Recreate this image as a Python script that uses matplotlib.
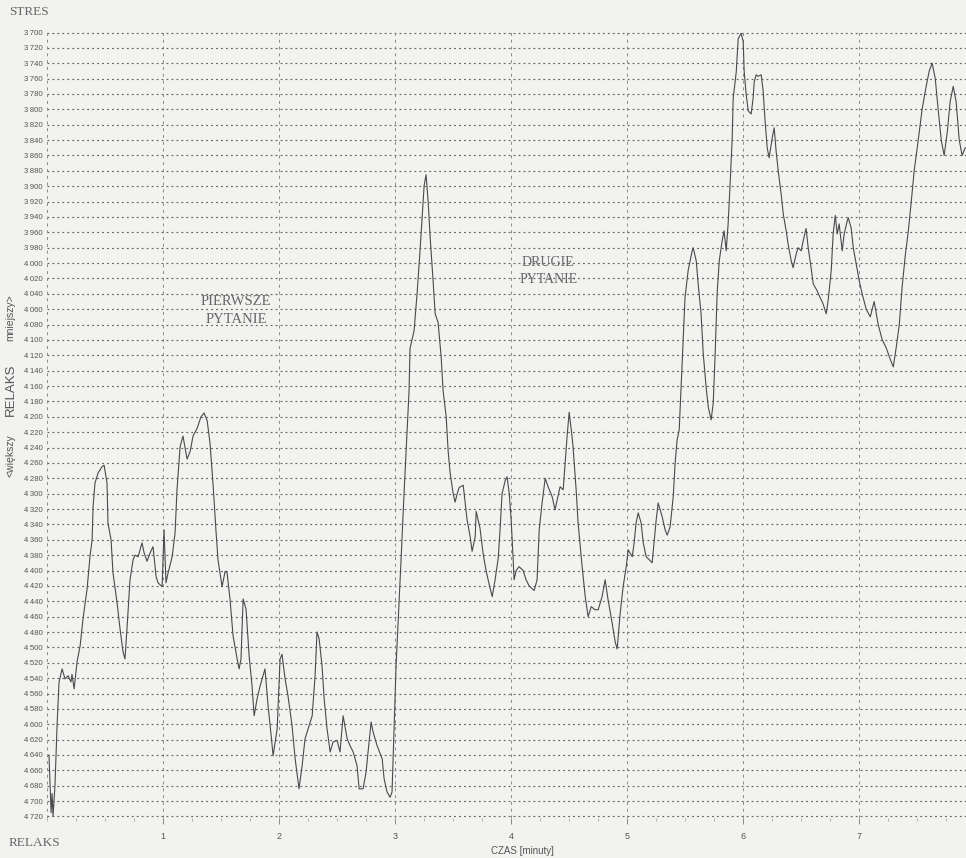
import numpy as np
import matplotlib
matplotlib.use("Agg")
import matplotlib.pyplot as plt

plt.rcParams["font.family"] = ["Liberation Sans", "DejaVu Sans"]

# skin-resistance record: time [s] and level (inverted scale: low = stress)
t_sec = [
    1.0, 2.1, 2.6, 3.1, 4.1, 5.2, 6.2, 7.8, 9.3, 10.9, 12.4, 12.9, 14.0, 15.5,
    17.1, 18.6, 20.7, 22.2, 23.3, 23.8, 24.8, 26.4, 28.4, 29.5, 31.0, 31.5,
    33.1, 34.1, 36.2, 37.8, 39.3, 40.3, 41.4, 42.9, 44.5, 45.5, 47.1, 49.1,
    50.2, 51.7, 53.3, 54.8, 56.4, 57.4, 59.5, 60.5, 61.5, 62.6, 64.7, 66.2,
    67.2, 68.8, 70.3, 72.4, 74.0, 75.5, 77.6, 79.6, 81.2, 82.8, 84.3, 85.9,
    87.4, 88.4, 90.5, 92.1, 93.1, 94.6, 96.2, 98.3, 99.3, 100.3, 101.4, 102.9,
    104.5, 106.0, 107.1, 108.6, 110.2, 112.7, 114.3, 115.9, 116.9, 119.0,
    120.5, 121.5, 123.1, 124.6, 126.7, 128.3, 130.3, 131.9, 133.4, 135.0,
    137.1, 138.6, 139.6, 140.7, 142.2, 143.3, 144.8, 146.4, 147.9, 150.0,
    151.5, 153.1, 155.2, 156.7, 158.3, 160.3, 161.4, 163.4, 165.0, 166.0,
    167.6, 168.6, 170.7, 173.3, 174.3, 175.8, 177.4, 178.4, 179.5, 180.5,
    182.1, 183.1, 184.6, 186.2, 187.2, 187.7, 189.8, 191.4, 192.9, 194.0,
    195.0, 196.0, 197.1, 198.1, 199.6, 200.7, 202.2, 203.8, 204.8, 206.4,
    207.4, 208.4, 210.0, 211.0, 212.1, 213.1, 215.2, 216.2, 217.2, 218.8,
    219.8, 221.4, 221.9, 223.9, 225.5, 227.0, 229.1, 230.2, 231.7, 233.3,
    234.3, 235.3, 236.9, 237.9, 239.0, 240.0, 241.0, 241.5, 242.6, 244.1,
    246.2, 247.7, 249.3, 251.9, 253.4, 254.5, 256.0, 257.6, 259.1, 261.2,
    262.7, 263.8, 265.3, 266.9, 267.9, 268.9, 270.0, 271.5, 272.0, 273.6,
    274.6, 276.7, 278.3, 279.8, 281.4, 283.4, 285.0, 287.0, 288.6, 290.1,
    292.2, 293.8, 294.8, 296.4, 297.9, 299.5, 300.5, 302.6, 303.6, 304.6,
    305.7, 307.2, 308.3, 309.8, 311.4, 312.9, 313.9, 315.0, 316.0, 318.1,
    319.6, 320.7, 322.2, 323.8, 324.8, 325.8, 326.9, 327.9, 328.9, 329.9,
    331.5, 333.6, 334.1, 335.7, 336.7, 338.2, 339.3, 340.8, 341.9, 343.4,
    344.5, 345.5, 346.5, 347.6, 349.1, 350.1, 351.2, 352.2, 353.3, 354.3,
    354.8, 356.4, 357.4, 358.9, 360.0, 360.5, 361.5, 362.6, 364.1, 365.1,
    365.7, 366.7, 367.7, 369.3, 370.3, 371.3, 372.4, 373.4, 375.0, 376.0,
    377.0, 378.1, 379.6, 380.7, 382.2, 383.2, 384.8, 385.8, 387.4, 388.4,
    390.0, 391.0, 392.5, 393.6, 395.1, 396.2, 398.2, 399.8, 401.3, 402.9,
    403.9, 405.5, 406.5, 407.6, 408.6, 409.6, 411.2, 412.2, 413.8, 414.3,
    415.8, 416.9, 418.4, 420.0, 421.5, 423.6, 425.7, 427.7, 429.8, 431.9,
    433.9, 436.0, 437.6, 439.1, 440.7, 442.2, 443.8, 445.3, 446.9, 448.4,
    450.5, 452.5, 454.6, 456.2, 457.7, 459.3, 460.8, 462.4, 463.9, 465.5,
    467.0, 468.6, 470.1, 471.7, 473.2, 474.8,
]
level = [
    4640, 4715, 4690, 4720, 4680, 4600, 4545, 4528, 4541, 4537, 4545, 4535,
    4554, 4519, 4498, 4463, 4424, 4382, 4360, 4317, 4286, 4273, 4265, 4263,
    4286, 4338, 4360, 4403, 4442, 4477, 4506, 4515, 4473, 4412, 4386, 4380,
    4382, 4364, 4377, 4388, 4377, 4369, 4408, 4416, 4421, 4347, 4416, 4403,
    4382, 4351, 4295, 4239, 4225, 4255, 4245, 4225, 4215, 4200, 4195, 4205,
    4235, 4290, 4350, 4386, 4421, 4401, 4403, 4437, 4485, 4515, 4528, 4515,
    4437, 4450, 4511, 4550, 4589, 4567, 4550, 4528, 4576, 4615, 4641, 4606,
    4515, 4509, 4541, 4563, 4602, 4645, 4684, 4654, 4619, 4606, 4589, 4537,
    4480, 4489, 4524, 4567, 4606, 4636, 4623, 4621, 4636, 4589, 4619, 4628,
    4636, 4654, 4684, 4684, 4662, 4636, 4597, 4610, 4628, 4645, 4671, 4688,
    4695, 4688, 4600, 4523, 4439, 4384, 4300, 4216, 4166, 4111, 4088, 4038,
    3983, 3938, 3899, 3885, 3921, 3966, 4022, 4066, 4077, 4122, 4166, 4200,
    4244, 4272, 4300, 4311, 4300, 4292, 4289, 4311, 4334, 4356, 4375, 4356,
    4323, 4345, 4378, 4400, 4423, 4434, 4412, 4384, 4345, 4300, 4283, 4278,
    4300, 4334, 4384, 4412, 4400, 4395, 4400, 4412, 4420, 4426, 4412, 4347,
    4312, 4280, 4291, 4304, 4321, 4308, 4291, 4295, 4260, 4226, 4194, 4226,
    4239, 4295, 4338, 4395, 4434, 4460, 4447, 4451, 4451, 4434, 4412, 4438,
    4468, 4493, 4502, 4455, 4421, 4395, 4373, 4382, 4364, 4338, 4325, 4338,
    4364, 4382, 4386, 4390, 4364, 4334, 4312, 4330, 4347, 4354, 4343, 4304,
    4260, 4230, 4217, 4160, 4100, 4045, 4010, 3984, 3980, 3997, 4027, 4066,
    4117, 4161, 4187, 4204, 4182, 4117, 4040, 3997, 3971, 3958, 3984, 3949,
    3893, 3837, 3786, 3751, 3708, 3701, 3712, 3751, 3780, 3802, 3806, 3786,
    3764, 3755, 3757, 3755, 3776, 3815, 3850, 3863, 3837, 3824, 3854, 3880,
    3910, 3936, 3958, 3975, 3997, 4006, 3988, 3980, 3984, 3971, 3955, 3980,
    4006, 4027, 4036, 4045, 4053, 4066, 4049, 4010, 3962, 3938, 3962, 3949,
    3984, 3962, 3945, 3941, 3954, 3980, 4001, 4023, 4040, 4060, 4070, 4050,
    4080, 4100, 4110, 4125, 4135, 4110, 4080, 4030, 3990, 3960, 3920, 3880,
    3840, 3800, 3770, 3750, 3740, 3760, 3800, 3840, 3860, 3830, 3790, 3770,
    3790, 3840, 3860, 3850,
]

y_levels = list(range(3700, 4721, 20))
minute_ticks = [1, 2, 3, 4, 5, 6, 7]
notes = [("PIERWSZE\nPYTANIE", 1.63, 4062, 10.5), ("DRUGIE\nPYTANIE", 4.32, 4010, 10)]

paper = "#f2f2f0"
ink = "#4a4a4a"

fig = plt.figure(figsize=(9.66, 8.58), dpi=100, facecolor=paper)
ax = fig.add_axes([0.0487, 0.0466, 0.9513, 0.9173], facecolor=paper)

minutes = np.array(t_sec) / 60.0
ax.plot(minutes, level, color=ink, linewidth=0.8, zorder=3)

# dotted level lines and dashed minute lines
for v in y_levels:
    ax.axhline(v, color="#666666", linewidth=0.85, linestyle=(0, (1.6, 2.6)), zorder=1)
for m in [0] + minute_ticks:
    ax.axvline(m, color="#888888", linewidth=0.7, linestyle=(0, (3, 4)), zorder=1)

ax.set_xlim(0, 7.92)
ax.set_ylim(4722, 3698)

ax.set_yticks(y_levels)
ax.set_yticklabels([f"{v // 1000}\u2009{v % 1000:03d}" for v in y_levels],
                   fontsize=5.6, color="#555555")
ax.tick_params(axis="y", length=0, pad=3)

ax.set_xticks(minute_ticks)
ax.set_xticklabels([str(m) for m in minute_ticks], fontsize=6.5, color="#555555")
ax.set_xticks(np.arange(0, 7.92, 0.25), minor=True)
ax.tick_params(axis="x", which="major", length=4, width=0.6, color="#777777", pad=6)
ax.tick_params(axis="x", which="minor", length=2, width=0.5, color="#999999")

for side in ["top", "right", "bottom", "left"]:
    ax.spines[side].set_visible(False)

for txt, xm, yv, fs in notes:
    ax.text(xm, yv, txt, ha="center", va="center", fontsize=fs, color="#666666",
            family="Liberation Serif", linespacing=1.45, zorder=4)

fig.text(0.009, 0.993, "STRES", ha="left", va="top", fontsize=9.5,
         family="Liberation Serif", color="#666666")
fig.text(0.009, 0.01, "RELAKS", ha="left", va="bottom", fontsize=9.5,
         family="Liberation Serif", color="#666666")
fig.text(0.541, 0.002, "CZAS [minuty]", ha="center", va="bottom", fontsize=7,
         color="#555555")

fig.text(0.011, 1 - 318 / 858, "mniejszy>", rotation=90, ha="center", va="center",
         fontsize=7.5, color="#555555")
fig.text(0.011, 1 - 390 / 858, "RELAKS", rotation=90, ha="center", va="center",
         fontsize=9.5, color="#555555")
fig.text(0.011, 1 - 456 / 858, "<większy", rotation=90, ha="center", va="center",
         fontsize=7.5, color="#555555")

fig.savefig("out.png", dpi=100, facecolor=paper)
